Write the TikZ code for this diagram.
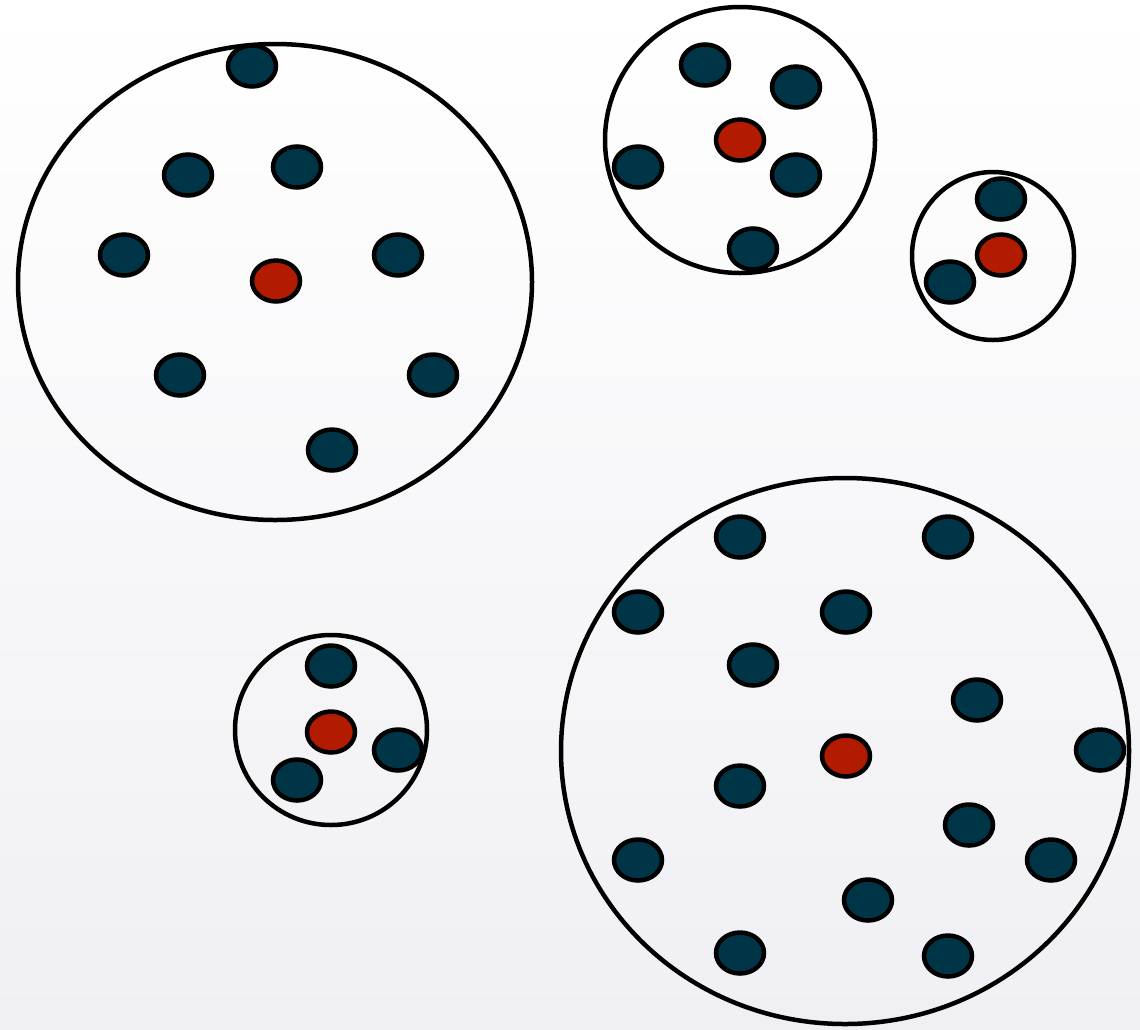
\documentclass[tikz,border=0pt]{standalone}
\usetikzlibrary{shapes.geometric}
\definecolor{dotblue}{RGB}{0,53,72}
\definecolor{dotred}{RGB}{178,27,0}
\definecolor{bgbottom}{RGB}{240,240,244}
\tikzset{
  cluster/.style={ellipse, draw=black, line width=4.5pt, inner sep=0pt},
  member/.style={ellipse, draw=black, fill=dotblue, line width=4.5pt, inner sep=0pt, minimum width=48pt, minimum height=41pt},
  centre/.style={member, fill=dotred}
}
\begin{document}
\begin{tikzpicture}[x=1pt,y=-1pt]
\shade[top color=white, bottom color=bgbottom] (0,0) rectangle (1140,1029);
\useasboundingbox (0,0) rectangle (1140,1029);
% clusters
\node[cluster, minimum width=514pt, minimum height=476pt] (c1) at (275,282) {};
\node[cluster, minimum width=270pt, minimum height=266pt] (c2) at (740,140) {};
\node[cluster, minimum width=162pt, minimum height=168pt] (c3) at (993,256) {};
\node[cluster, minimum width=192pt, minimum height=190pt] (c4) at (331,730) {};
\node[cluster, minimum width=568pt, minimum height=546pt] (c5) at (845,751) {};
% cluster 1
\node[member] (a1) at (252,66) {};
\node[member] (a2) at (188,175) {};
\node[member] (a3) at (297,167) {};
\node[member] (a4) at (124,255) {};
\node[centre] (ar) at (276,281) {};
\node[member] (a5) at (398,255) {};
\node[member] (a6) at (180,375) {};
\node[member] (a7) at (433,375) {};
\node[member] (a8) at (332,450) {};
% cluster 2
\node[member] (b1) at (705,65) {};
\node[member] (b2) at (796,87) {};
\node[centre] (br) at (740,140) {};
\node[member] (b3) at (638,167) {};
\node[member] (b4) at (796,175) {};
\node[member] (b5) at (753,249) {};
% cluster 3
\node[member] (d1) at (1001,199) {};
\node[centre] (dr) at (1001,255) {};
\node[member] (d2) at (950,282) {};
% cluster 4
\node[member] (e1) at (331,666) {};
\node[centre] (er) at (331,732) {};
\node[member] (e2) at (398,750) {};
\node[member] (e3) at (297,780) {};
% cluster 5
\node[member] (f1) at (740,537) {};
\node[member] (f2) at (948,537) {};
\node[member] (f3) at (638,612) {};
\node[member] (f4) at (846,612) {};
\node[member] (f5) at (753,665) {};
\node[member] (f6) at (977,700) {};
\node[member] (f7) at (1100,750) {};
\node[centre] (fr) at (846,756) {};
\node[member] (f8) at (740,786) {};
\node[member] (f9) at (969,825) {};
\node[member] (f10) at (638,860) {};
\node[member] (f11) at (1051,860) {};
\node[member] (f12) at (868,900) {};
\node[member] (f13) at (740,953) {};
\node[member] (f14) at (948,956) {};
\end{tikzpicture}
\end{document}
